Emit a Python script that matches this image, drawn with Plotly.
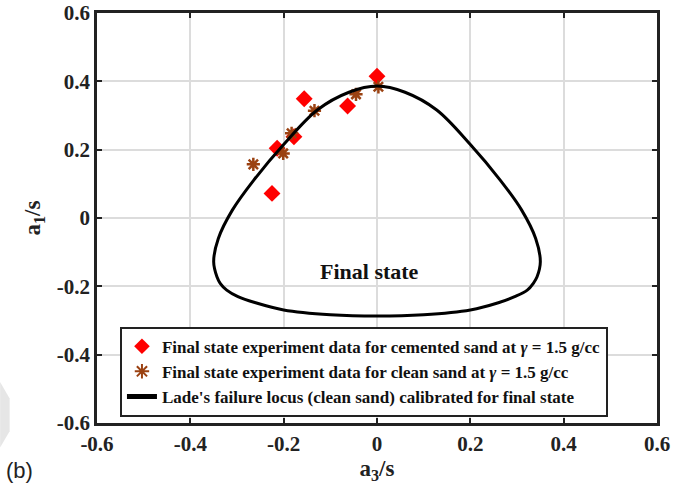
import plotly.graph_objects as go

# Final-state experiment data, normalised deviatoric coordinates
cemented_a3 = [0.000, -0.156, -0.063, -0.178, -0.214, -0.225]
cemented_a1 = [0.415, 0.349, 0.328, 0.238, 0.204, 0.072]

clean_a3 = [0.003, -0.045, -0.134, -0.183, -0.201, -0.265]
clean_a1 = [0.384, 0.362, 0.314, 0.248, 0.189, 0.157]

# Lade's failure locus (clean sand), closed loop traced clockwise from the top
locus_a3 = [0.000, 0.060, 0.128, 0.200, 0.264, 0.310, 0.340, 0.350, 0.343, 0.335,
            0.322, 0.295, 0.260, 0.200, 0.100, 0.000, -0.100, -0.200, -0.260,
            -0.298, -0.322, -0.336, -0.343, -0.350, -0.340, -0.310, -0.264, -0.200,
            -0.128, -0.060, 0.000]
locus_a1 = [0.386, 0.368, 0.316, 0.215, 0.111, 0.023, -0.060, -0.128, -0.172, -0.191,
            -0.211, -0.230, -0.248, -0.269, -0.283, -0.287, -0.283, -0.269, -0.248,
            -0.230, -0.211, -0.191, -0.172, -0.128, -0.060, 0.023, 0.111, 0.215,
            0.316, 0.368, 0.386]

tick_vals = [-0.6, -0.4, -0.2, 0, 0.2, 0.4, 0.6]
tick_text = ["-0.6", "-0.4", "-0.2", "0", "0.2", "0.4", "0.6"]

SERIF = "Liberation Serif"

fig = go.Figure()
fig.add_trace(go.Scatter(
    x=cemented_a3, y=cemented_a1, mode="markers",
    name="Final state experiment data for cemented sand at <i>γ</i> = 1.5 g/cc",
    marker=dict(symbol="diamond", size=13, color="#ff0000", line=dict(width=0)),
))
fig.add_trace(go.Scatter(
    x=clean_a3, y=clean_a1, mode="markers",
    name="Final state experiment data for clean sand at <i>γ</i> = 1.5 g/cc",
    marker=dict(symbol="asterisk-open", size=11, color="#9b4212",
                line=dict(width=2.5, color="#9b4212")),
))
fig.add_trace(go.Scatter(
    x=locus_a3, y=locus_a1, mode="lines",
    name="Lade's failure locus (clean sand) calibrated for final state",
    line=dict(color="black", width=3, shape="spline", smoothing=1.0),
))

axis_common = dict(
    range=[-0.6, 0.6], tickvals=tick_vals,
    ticktext=["<b>%s</b>" % t for t in tick_text],
    showgrid=True, gridcolor="#dcdcdc", gridwidth=1.5,
    zeroline=False, showline=True, linecolor="#222222", linewidth=2.5,
    mirror="ticks", ticks="inside", ticklen=5, tickwidth=2, tickcolor="#222222",
    tickfont=dict(family=SERIF, size=21, color="#222222"),
    automargin=False,
)

fig.update_layout(
    width=688, height=488,
    margin=dict(l=97, r=31, t=13, b=65),
    font=dict(family=SERIF, color="#222222"),
    paper_bgcolor="white", plot_bgcolor="white",
    xaxis=dict(**axis_common,
               title=dict(text="<b>a<sub>3</sub>/s</b>", standoff=2,
                          font=dict(family=SERIF, size=23, color="#222222"))),
    yaxis=dict(**axis_common,
               title=dict(text="<b>a<sub>1</sub>/s</b>", standoff=10,
                          font=dict(family=SERIF, size=23, color="#222222"))),
    legend=dict(
        x=0.041, y=0.235, xanchor="left", yanchor="top",
        bgcolor="white", bordercolor="#222222", borderwidth=2,
        font=dict(family=SERIF, size=17, color="#111111", weight="bold"),
        tracegroupgap=0, itemsizing="constant",
    ),
    showlegend=True,
)

fig.add_annotation(
    x=-0.016, y=-0.157, xref="x", yref="y", text="<b>Final state</b>", showarrow=False,
    font=dict(family=SERIF, size=22, color="#111111"),
)
fig.add_annotation(
    x=-0.166, y=-0.115, xref="paper", yref="paper", xanchor="left", yanchor="middle",
    text="(b)", showarrow=False,
    font=dict(family="Liberation Sans", size=22, color="#222222"),
)
# pale page decoration along the left edge
fig.add_shape(
    type="path", xref="paper", yref="paper", layer="below",
    path="M -0.173 -0.06 L -0.156 -0.02 L -0.156 0.06 L -0.173 0.10 Z",
    fillcolor="#e6e6e6", line=dict(width=0),
)

fig.write_html("out.html")
